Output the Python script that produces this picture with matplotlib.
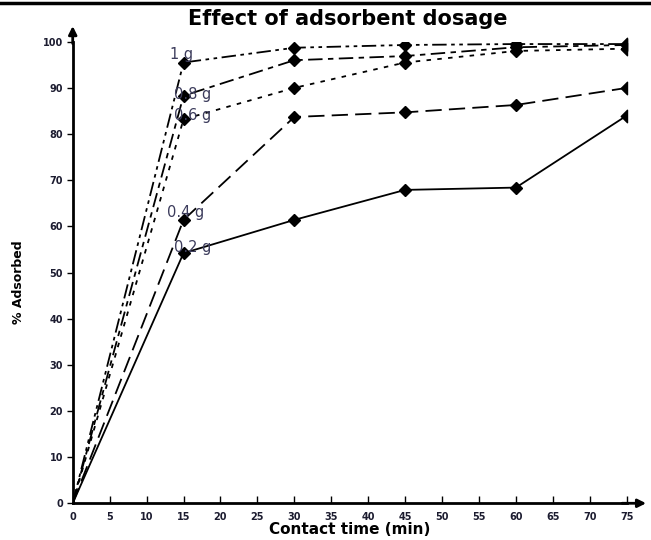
import matplotlib
matplotlib.use('Agg')
import matplotlib.pyplot as plt
from matplotlib.lines import Line2D
from matplotlib.path import Path

plt.rcParams['font.family'] = ['DejaVu Sans']

# contact time (min)
time = [0, 15, 30, 45, 60, 75]

# % adsorbed per dosage
ads_02 = [0, 54.2, 61.4, 67.9, 68.4, 84.0]
ads_04 = [0, 61.4, 83.7, 84.7, 86.3, 90.0]
ads_06 = [0, 83.2, 90.0, 95.5, 98.0, 98.5]
ads_08 = [0, 88.3, 96.0, 96.9, 98.8, 99.3]
ads_1 = [0, 95.5, 98.7, 99.3, 99.5, 99.5]

labels = ['0.2 g', '0.4 g', '0.6 g', '0.8 g', '1 g']
label_pos = [(16.2, 55.5), (15.3, 62.9), (16.2, 84.1), (16.2, 88.6), (14.8, 97.2)]

xticks = list(range(0, 80, 5))
yticks = list(range(0, 110, 10))

fig = plt.figure(figsize=(6.51, 5.40), dpi=100)
ax = fig.add_axes([0.1117, 0.068, 0.8510, 0.8547])

series = [ads_02, ads_04, ads_06, ads_08, ads_1]
dashes = [None, (9, 4), (2.5, 3.5), (8, 3, 3, 3), (8, 2.5, 2, 2.5, 2, 2.5)]

# half diamond for the points sitting on the right edge
half_d = Path([(0, -1), (-1, 0), (0, 1), (0, -1)],
              [Path.MOVETO, Path.LINETO, Path.LINETO, Path.CLOSEPOLY])

for s, d in zip(series, dashes):
    ln, = ax.plot(time, s, color='black', lw=1.3, marker='D', ms=6.5,
                  markevery=list(range(1, len(time) - 1)))
    if d is not None:
        ln.set_dashes(d)
    ax.plot(time[-1:], s[-1:], ls='none', marker=half_d, ms=9, color='black',
            clip_on=False)

for lab, (lx, ly) in zip(labels, label_pos):
    ax.text(lx, ly, lab, color='#3c3c5c', fontsize=10.5, ha='center', va='center')

ax.set_xlim(0, 75)
ax.set_ylim(0, 100)
ax.set_xticks(xticks)
ax.set_yticks(yticks)
for t in ax.get_xticklabels() + ax.get_yticklabels():
    t.set_fontweight('bold')
    t.set_fontsize(7)
    t.set_color('#1c1c30')
ax.tick_params(axis='x', direction='in', length=5, width=1, pad=6)
ax.tick_params(axis='y', direction='out', length=4, width=1, pad=3)

for side in ['top', 'right']:
    ax.spines[side].set_visible(False)
ax.spines['left'].set_linewidth(2)
ax.spines['bottom'].set_linewidth(2)

# axis arrows
ax.annotate('', xy=(0, 104), xytext=(0, 99), xycoords='data',
            arrowprops=dict(arrowstyle='-|>', color='black', lw=2, mutation_scale=12),
            annotation_clip=False)
ax.annotate('', xy=(78.0, 0), xytext=(74, 0), xycoords='data',
            arrowprops=dict(arrowstyle='-|>', color='black', lw=2, mutation_scale=12),
            annotation_clip=False)

ax.set_xlabel('Contact time (min)', fontsize=11, fontweight='bold', labelpad=0)
ax.set_ylabel('% Adsorbed', fontsize=9, fontweight='bold')
ax.yaxis.set_label_coords(-0.087, 0.48)
fig.text(0.534, 0.965, 'Effect of adsorbent dosage', ha='center', va='center',
         fontsize=15, fontweight='bold')

# border line at the top of the picture
fig.add_artist(Line2D([0, 1], [0.995, 0.995], color='black', lw=2.5))

fig.savefig('out.png', dpi=100)
